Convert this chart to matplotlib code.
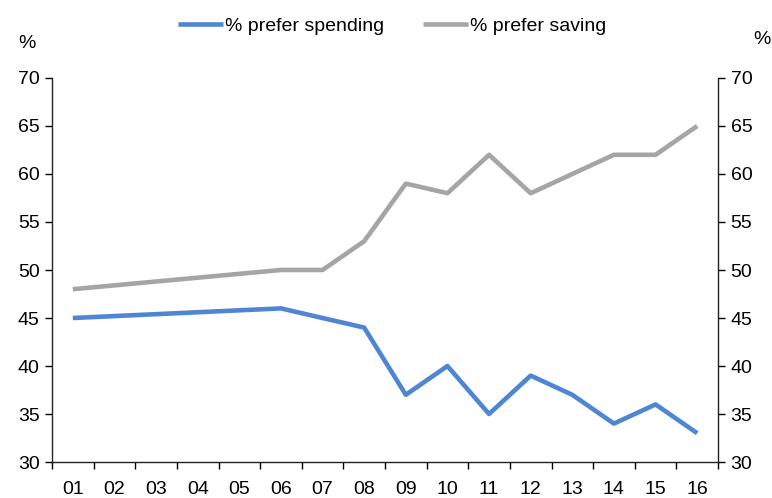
import matplotlib
matplotlib.use("Agg")
import matplotlib.pyplot as plt
from matplotlib import font_manager

categories = ["01", "02", "03", "04", "05", "06", "07", "08",
              "09", "10", "11", "12", "13", "14", "15", "16"]
obs_years = ["01", "06", "07", "08", "09", "10", "11", "12", "13", "14", "15", "16"]
spending = [45, 46, 45, 44, 37, 40, 35, 39, 37, 34, 36, 33]
saving = [48, 50, 50, 53, 59, 58, 62, 58, 60, 62, 62, 65]
yticks = [30, 35, 40, 45, 50, 55, 60, 65, 70]

names = {f.name for f in font_manager.fontManager.ttflist}
fam = "Liberation Sans Narrow" if "Liberation Sans Narrow" in names else "Liberation Sans"
plt.rcParams["font.family"] = [fam, "DejaVu Sans"]

fig = plt.figure(figsize=(7.72, 4.98), dpi=100)
ax = fig.add_axes([52/772, 1-462/498, (718-52)/772, (462-78)/498])

xs_pos = [categories.index(y) for y in obs_years]
blue = "#4f86d4"
gray = "#a5a5a5"
l1, = ax.plot(xs_pos, spending, color=blue, lw=3.3, label="% prefer spending", solid_capstyle="butt")
l2, = ax.plot(xs_pos, saving, color=gray, lw=3.3, label="% prefer saving", solid_capstyle="butt")

ax.set_xlim(-0.5, len(categories) - 0.5)
ax.set_ylim(30, 70)
ax.set_yticks(yticks)
ax.set_xticks([i - 0.5 for i in range(len(categories) + 1)])
ax.set_xticklabels([])
ax.set_xticks(range(len(categories)), minor=True)
ax.set_xticklabels(categories, minor=True)
ax.tick_params(axis="x", which="minor", length=0, pad=14, labelsize=14)
ax.tick_params(axis="x", which="major", length=5, direction="out", width=1)
ax.tick_params(axis="y", which="major", length=5, direction="out", width=1, labelsize=14,
               left=True, right=True, labelleft=True, labelright=True, pad=4)
ax.spines["top"].set_visible(False)
for s in ["left", "right", "bottom"]:
    ax.spines[s].set_color("#222222")
    ax.spines[s].set_linewidth(1.0)

fig.text(27/772, 1-43/498, "%", fontsize=14, ha="center", va="center")
fig.text(762/772, 1-40/498, "%", fontsize=14, ha="center", va="center")

fig.legend(handles=[l1, l2], loc="center", bbox_to_anchor=(392/772, 1-26/498), ncol=2,
           frameon=False, fontsize=14, handlelength=2.3, handletextpad=0.1, columnspacing=2.0)

fig.savefig("out.png", dpi=100)
